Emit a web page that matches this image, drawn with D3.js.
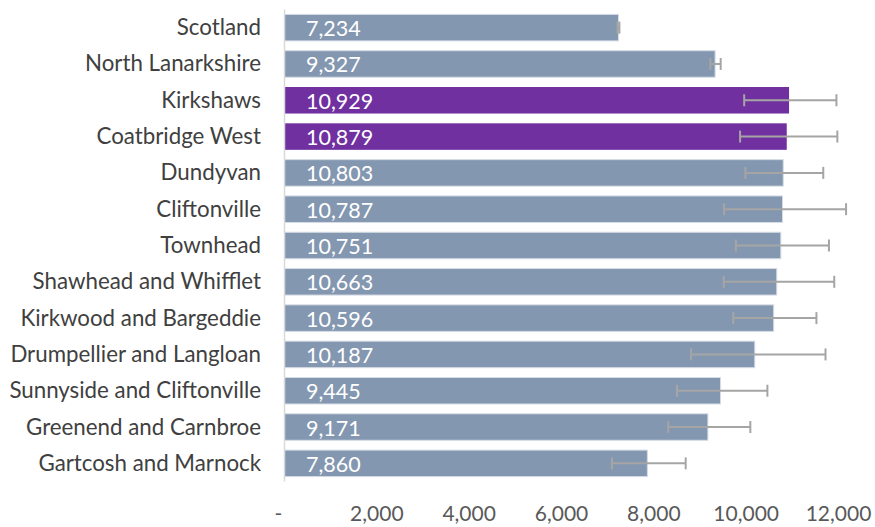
<!DOCTYPE html>
<html>
<head>
<meta charset="utf-8">
<script src="https://cdn.jsdelivr.net/npm/d3@7"></script>
<style>
    body { margin: 0; background: #fff; }
    svg text { font-family: Lato, "Open Sans", sans-serif; }
</style>
</head>
<body>
<div id="chart"></div>
<script>
// areas, top to bottom
var areas = ["Scotland", "North Lanarkshire", "Kirkshaws", "Coatbridge West", "Dundyvan",
    "Cliftonville", "Townhead", "Shawhead and Whifflet", "Kirkwood and Bargeddie",
    "Drumpellier and Langloan", "Sunnyside and Cliftonville", "Greenend and Carnbroe",
    "Gartcosh and Marnock"];
var values = [7234, 9327, 10929, 10879, 10803, 10787, 10751, 10663, 10596, 10187, 9445, 9171, 7860];
// confidence interval ends
var lower = [7214, 9225, 9957, 9868, 9983, 9522, 9778, 9515, 9720, 8806, 8502, 8312, 7093];
var upper = [7254, 9448, 11955, 11975, 11670, 12164, 11793, 11908, 11522, 11719, 10460, 10090, 8690];
var highlighted = ["Kirkshaws", "Coatbridge West"];
var tickValues = [0, 2000, 4000, 6000, 8000, 10000, 12000];

var width = 875,
    height = 527;

var svg = d3.select("#chart").append("svg")
    .attr("width", width)
    .attr("height", height);

var x = d3.scaleLinear()
    .domain([0, 12000])
    .range([284.5, 838.5]);

var y = d3.scaleBand()
    .domain(areas)
    .range([9.5, 481.5])
    .paddingInner(0.27)
    .paddingOuter(0.135);

var data = areas.map(function (a, i) {
    return { name: a, value: values[i], lo: lower[i], hi: upper[i] };
});

// bars
svg.selectAll(".bar")
    .data(data)
    .enter().append("rect")
    .attr("class", "bar")
    .attr("x", x(0))
    .attr("y", function (d) { return y(d.name); })
    .attr("width", function (d) { return x(d.value) - x(0); })
    .attr("height", y.bandwidth())
    .style("fill", function (d) { return highlighted.indexOf(d.name) >= 0 ? "#7030A0" : "#8497B0"; })
    .style("stroke", function (d) { return highlighted.indexOf(d.name) >= 0 ? "none" : "#D6DCE5"; })
    .style("stroke-width", 1);

// vertical axis line
svg.append("line")
    .attr("x1", x(0)).attr("x2", x(0))
    .attr("y1", 9.5).attr("y2", 481.5)
    .style("stroke", "#D9D9D9")
    .style("stroke-width", 1.5);

// error bars
var eb = svg.selectAll(".err")
    .data(data)
    .enter().append("g")
    .attr("class", "err")
    .style("stroke", "#A5A5A5")
    .style("stroke-width", 2);

eb.append("line")
    .attr("x1", function (d) { return x(d.lo); })
    .attr("x2", function (d) { return x(d.hi); })
    .attr("y1", function (d) { return y(d.name) + y.bandwidth() / 2; })
    .attr("y2", function (d) { return y(d.name) + y.bandwidth() / 2; });

eb.selectAll(".cap")
    .data(function (d) { return [{ v: d.lo, n: d.name }, { v: d.hi, n: d.name }]; })
    .enter().append("line")
    .attr("x1", function (d) { return x(d.v); })
    .attr("x2", function (d) { return x(d.v); })
    .attr("y1", function (d) { return y(d.n) + y.bandwidth() / 2 - 6; })
    .attr("y2", function (d) { return y(d.n) + y.bandwidth() / 2 + 6; });

// value labels inside bars
svg.selectAll(".val")
    .data(data)
    .enter().append("text")
    .attr("class", "val")
    .attr("x", x(0) + 21.5)
    .attr("y", function (d) { return y(d.name) + y.bandwidth() / 2 + 8.5; })
    .style("fill", "#fff")
    .style("font-size", "21.5px")
    .text(function (d) { return d3.format(",")(d.value); });

// category labels
svg.selectAll(".cat")
    .data(data)
    .enter().append("text")
    .attr("class", "cat")
    .attr("x", 261)
    .attr("y", function (d) { return y(d.name) + y.bandwidth() / 2 + 7.5; })
    .attr("text-anchor", "end")
    .style("fill", "#404040")
    .style("font-size", "22.3px")
    .text(function (d) { return d.name; });

// x axis tick labels
svg.selectAll(".tick-label")
    .data(tickValues)
    .enter().append("text")
    .attr("class", "tick-label")
    .attr("x", function (d) { return d === 0 ? x(d) - 6 : x(d); })
    .attr("y", 521)
    .attr("text-anchor", "middle")
    .style("fill", "#595959")
    .style("font-size", "21px")
    .text(function (d) { return d === 0 ? "-" : d3.format(",")(d); });
</script>
</body>
</html>
